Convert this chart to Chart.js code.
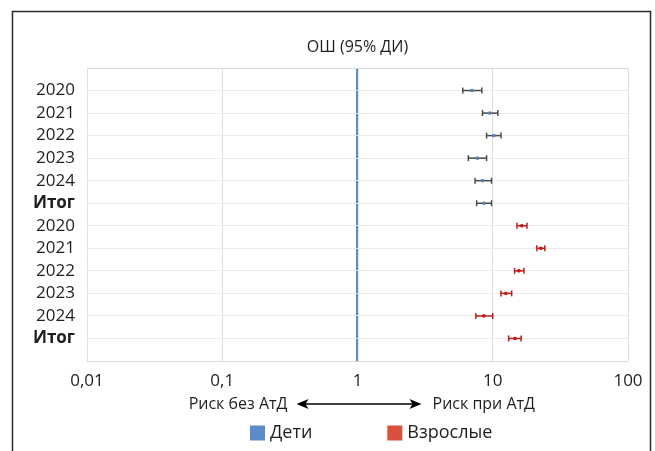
<!DOCTYPE html>
<html lang="ru">
<head>
<meta charset="utf-8">
<script src="https://cdn.jsdelivr.net/npm/chart.js@4.4.1/dist/chart.umd.min.js"></script>
<style>
  html, body { margin: 0; padding: 0; background: #ffffff; }
  #wrap { width: 655px; height: 451px; position: relative; }
</style>
</head>
<body>
<div id="wrap"><canvas id="c" width="655" height="451"></canvas></div>
<script>
// Row labels (top to bottom): children block, then adults block
const rowLabels = ['2020', '2021', '2022', '2023', '2024', 'Итог',
                   '2020', '2021', '2022', '2023', '2024', 'Итог'];

// Odds ratios with 95% confidence intervals — children
const childOR   = [7.0, 9.5, 10.2, 7.7, 8.4, 8.6];
const childLow  = [6.0, 8.4, 9.0, 6.6, 7.4, 7.6];
const childHigh = [8.3, 10.9, 11.5, 9.0, 9.8, 9.8];

// Odds ratios with 95% confidence intervals — adults
const adultOR   = [16.4, 22.7, 15.6, 12.5, 8.6, 14.6];
const adultLow  = [15.1, 21.2, 14.5, 11.5, 7.5, 13.1];
const adultHigh = [17.9, 24.3, 17.0, 13.8, 10.0, 16.2];

// Log axis ticks
const xTickValues = [0.01, 0.1, 1, 10, 100];
const xTickLabels = ['0,01', '0,1', '1', '10', '100'];

const FONT = '"Open Sans", "DejaVu Sans", sans-serif';
const TEXT = '#1e1e1e';

const datasets = [];
function addGroup(label, or, lo, hi, rowOffset, barColor, markColor, legendColor) {
  or.forEach((v, i) => {
    const row = rowOffset + i + 1;
    datasets.push({
      type: 'scatter',
      showLine: true,
      data: [{ x: lo[i], y: row }, { x: hi[i], y: row }],
      borderColor: barColor,
      borderWidth: 1.5,
      pointStyle: 'line',
      pointRotation: 90,
      pointRadius: 3,
      pointHoverRadius: 3,
      pointBorderWidth: 1.5,
      pointBorderColor: barColor,
      order: 2
    });
  });
  datasets.push({
    type: 'scatter',
    label: label,
    data: or.map((v, i) => ({ x: v, y: rowOffset + i + 1 })),
    pointStyle: 'rect',
    pointRadius: 1.6,
    pointHoverRadius: 1.6,
    pointBackgroundColor: markColor,
    pointBorderColor: markColor,
    pointBorderWidth: 1,
    backgroundColor: legendColor,
    borderColor: legendColor,
    order: 1
  });
}
addGroup('Дети', childOR, childLow, childHigh, 0, '#4a4a4a', '#5a7fb8', '#5b8bc9');
addGroup('Взрослые', adultOR, adultLow, adultHigh, 6, '#c41a1a', '#c41a1a', '#d9503f');

// Outer frame around the figure
const framePlugin = {
  id: 'frame',
  beforeDraw(chart) {
    const ctx = chart.ctx;
    ctx.save();
    ctx.fillStyle = '#ffffff';
    ctx.fillRect(0, 0, chart.width, chart.height);
    ctx.strokeStyle = '#2b2b2b';
    ctx.lineWidth = 1.5;
    ctx.strokeRect(12.5, 11.5, 638, 470);
    ctx.restore();
  }
};

// Direction captions with a double-headed arrow centred on OR = 1
const arrowPlugin = {
  id: 'arrowCaption',
  afterDraw(chart) {
    const ctx = chart.ctx;
    const cx = chart.scales.x.getPixelForValue(1);
    const y = 404;
    ctx.save();
    ctx.font = '16px ' + FONT;
    ctx.fillStyle = TEXT;
    ctx.textBaseline = 'middle';
    ctx.textAlign = 'right';
    ctx.fillText('Риск без АтД', cx - 70, y);
    ctx.textAlign = 'left';
    ctx.fillText('Риск при АтД', cx + 75, y);
    const x0 = cx - 61, x1 = cx + 64;
    ctx.strokeStyle = '#000';
    ctx.fillStyle = '#000';
    ctx.lineWidth = 1.3;
    ctx.beginPath();
    ctx.moveTo(x0 + 6, y);
    ctx.lineTo(x1 - 6, y);
    ctx.stroke();
    ctx.beginPath();
    ctx.moveTo(x0, y); ctx.lineTo(x0 + 12, y - 5); ctx.lineTo(x0 + 9, y); ctx.lineTo(x0 + 12, y + 5); ctx.closePath();
    ctx.fill();
    ctx.beginPath();
    ctx.moveTo(x1, y); ctx.lineTo(x1 - 12, y - 5); ctx.lineTo(x1 - 9, y); ctx.lineTo(x1 - 12, y + 5); ctx.closePath();
    ctx.fill();
    ctx.restore();
  }
};

// Legend with square swatches, drawn from the labelled datasets
const legendPlugin = {
  id: 'squareLegend',
  afterDraw(chart) {
    const ctx = chart.ctx;
    const items = chart.data.datasets.filter(d => d.label);
    const y = 433, box = 15, gap = 5, spacing = 75;
    ctx.save();
    ctx.font = '18px ' + FONT;
    ctx.textBaseline = 'middle';
    ctx.textAlign = 'left';
    let x = 250;
    items.forEach(d => {
      ctx.fillStyle = d.backgroundColor;
      ctx.fillRect(x, y - box / 2, box, box);
      ctx.fillStyle = TEXT;
      const tx = x + box + gap;
      ctx.fillText(d.label, tx, y);
      x = tx + ctx.measureText(d.label).width + spacing;
    });
    ctx.restore();
  }
};

new Chart(document.getElementById('c'), {
  data: { datasets },
  options: {
    responsive: false,
    animation: false,
    events: [],
    layout: { padding: { left: 13, right: 27, top: 11, bottom: 0 } },
    plugins: {
      legend: { display: false },
      tooltip: { enabled: false },
      title: { display: false }
    },
    scales: {
      x: {
        type: 'logarithmic',
        position: 'bottom',
        min: 0.01,
        max: 100,
        afterBuildTicks: (s) => { s.ticks = xTickValues.map(v => ({ value: v })); },
        afterFit: (s) => { s.height = 90; },
        ticks: {
          autoSkip: false,
          maxRotation: 0,
          padding: 10,
          color: TEXT,
          font: { family: FONT, size: 17 },
          callback: (v) => xTickLabels[xTickValues.indexOf(v)] ?? ''
        },
        grid: {
          drawTicks: false,
          color: (c) => c.tick && c.tick.value === 1 ? '#5b8bc9' : '#dedede',
          lineWidth: (c) => c.tick && c.tick.value === 1 ? 2.2 : 1
        },
        border: { display: false }
      },
      xTop: {
        type: 'linear',
        position: 'top',
        min: 0,
        max: 1,
        afterFit: (s) => { s.height = 57; },
        ticks: { display: false },
        grid: { display: false, drawTicks: false },
        border: { display: false },
        title: {
          display: true,
          text: 'ОШ (95% ДИ)',
          color: TEXT,
          font: { family: FONT, size: 16 },
          padding: { top: 27, bottom: 0 }
        }
      },
      y: {
        type: 'linear',
        reverse: true,
        min: 0,
        max: 13,
        afterBuildTicks: (s) => {
          s.ticks = Array.from({ length: rowLabels.length + 2 }, (_, i) => ({ value: i }));
        },
        afterFit: (s) => { s.width = 74; },
        ticks: {
          autoSkip: false,
          padding: 12,
          color: TEXT,
          font: (c) => ({
            family: FONT,
            size: 17,
            weight: (c.tick && rowLabels[c.tick.value - 1] === 'Итог') ? 'bold' : 'normal'
          }),
          callback: (v) => rowLabels[v - 1] ?? ''
        },
        grid: {
          drawTicks: false,
          color: (c) => (c.tick && (c.tick.value === 0 || c.tick.value === 13)) ? '#d9d9d9' : '#ececec',
          lineWidth: 1
        },
        border: { display: false }
      }
    }
  },
  plugins: [framePlugin, arrowPlugin, legendPlugin]
});
</script>
</body>
</html>
